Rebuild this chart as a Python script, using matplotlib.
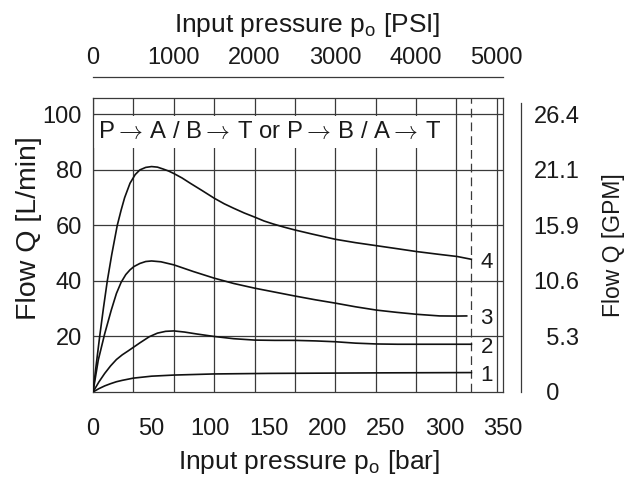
import matplotlib
matplotlib.use('Agg')
import matplotlib.pyplot as plt
from matplotlib.patches import Rectangle

plt.rcParams['font.family'] = ['Liberation Sans', 'DejaVu Sans']
plt.rcParams['mathtext.fontset'] = 'custom'
plt.rcParams['mathtext.rm'] = 'Liberation Sans'
plt.rcParams['mathtext.it'] = 'Liberation Sans:italic'

# ---------------- data ----------------
PSI_PER_BAR = 14.5038
bar_ticks = [0, 50, 100, 150, 200, 250, 300, 350]
psi_ticks = [0, 1000, 2000, 3000, 4000, 5000]
psi_grid = [0, 500, 1000, 1500, 2000, 2500, 3000, 3500, 4000, 4500, 5000]
lpm_ticks = [20, 40, 60, 80, 100]
gpm_positions_lpm = [0, 20, 40, 60, 80, 100]
gpm_labels = ['  0', '  5.3', '10.6', '15.9', '21.1', '26.4']
rated_pressure_bar = 323
flow_path_text = (r'P$\rightarrow\,$A / B$\rightarrow\,$T or '
                  r'P$\rightarrow\,$B / A$\rightarrow\,$T')

x4 = [0, 2.5, 5.7, 9, 12.2, 16, 20.7, 24, 27, 31.6, 36, 40, 45, 50, 55, 60,
      64.5, 69, 76, 83, 93, 103.5, 112, 120, 129, 138, 146, 154, 163, 172,
      187, 207, 224, 242, 260, 276, 295, 311, 323]
y4 = [0, 9, 20, 30.5, 40, 49.5, 60, 65.5, 70, 75.2, 78.3, 80, 80.9, 81.2, 81,
      80.3, 79.6, 78.7, 77.1, 75.2, 72.6, 69.8, 67.8, 66.2, 64.5, 63, 61.6,
      60.5, 59.4, 58.4, 56.9, 55.0, 53.8, 52.7, 51.6, 50.6, 49.6, 48.8, 47.8]

x3 = [0, 4.5, 10, 15.6, 20, 24, 28, 31.6, 35, 40, 45, 50, 58, 69, 85.6,
      103.5, 120, 138, 155, 172, 190, 207, 224, 242, 259, 276, 296, 310, 319]
y3 = [0, 11.5, 21, 29.5, 35.5, 39.5, 42.3, 44, 45.2, 46.3, 47, 47.2, 46.9,
      45.8, 43.4, 41, 39.1, 37.4, 36, 34.6, 33.2, 32, 30.7, 29.5, 28.7, 28,
      27.4, 27.35, 27.4]

x2 = [0, 5, 10, 15, 20, 25, 30, 34.5, 40, 48, 55, 62, 69, 78, 88.5, 103.5,
      120, 138, 155, 172, 190, 207, 224, 242, 260, 323]
y2 = [0, 3.6, 6.7, 9.4, 11.7, 13.4, 14.8, 16.1, 17.7, 19.9, 21.2, 21.85, 22,
      21.6, 20.9, 20, 19.2, 18.7, 18.6, 18.6, 18.4, 18.1, 17.6, 17.3, 17.2,
      17.2]

x1 = [0, 5, 10, 15, 20, 25, 34.5, 50, 69, 103, 150, 200, 250, 323]
y1 = [0, 1.2, 2.2, 3.0, 3.7, 4.2, 5, 5.7, 6.1, 6.5, 6.7, 6.8, 6.9, 7]

curves = [('1', x1, y1), ('2', x2, y2), ('3', x3, y3), ('4', x4, y4)]

# ---------------- figure ----------------
GRID = '#3a3a3a'
TXT = '#1a1a1a'
PX = 72 / 100  # points per pixel

fig = plt.figure(figsize=(6.33, 4.78), dpi=100)
ax = fig.add_axes([93/633, 86/478, 410/633, 294/478])
ax.set_xlim(0, 350)
ax.set_ylim(0, 105.9)

for p in psi_grid:
    ax.axvline(p / PSI_PER_BAR, color=GRID, lw=0.9, zorder=1)
for q in lpm_ticks:
    ax.axhline(q, color=GRID, lw=0.9, zorder=1)
ax.axvline(rated_pressure_bar, color=GRID, lw=0.9, ls=(0, (7, 4)), zorder=1)

ax.add_patch(Rectangle((0.6, 87.9), 303.5, 11.6, facecolor='white',
                       edgecolor='none', zorder=1.5))
ax.text(4.5, 93.8, flow_path_text, ha='left', va='center', fontsize=17.2,
        color=TXT, zorder=3, math_fontfamily='cm')

for name, xs, ys in curves:
    ax.plot(xs, ys, color='#111111', lw=1.2, zorder=3,
            solid_joinstyle='round')
    ax.annotate(name, xy=(336, ys[-1]), xytext=(0, -2),
                textcoords='offset points', ha='center', va='center',
                fontsize=16, color=TXT, zorder=4)

for s in ax.spines.values():
    s.set_color(GRID)
    s.set_linewidth(0.9)

ax.set_xticks(bar_ticks)
ax.set_yticks(lpm_ticks)
ax.tick_params(axis='x', length=0, pad=18.5, labelsize=17, labelcolor=TXT)
ax.tick_params(axis='y', length=0, pad=8, labelsize=17, labelcolor=TXT)
ax.set_xlabel('Input pressure p$_\\mathrm{o}$ [bar]', fontsize=19,
              labelpad=6, color=TXT)
ax.xaxis.label.set_x(0.527)
ax.set_ylabel('Flow Q [L/min]', fontsize=20.5, color=TXT)
ax.yaxis.set_label_coords(-0.124, 0.558)

# top PSI axis
axt = ax.twiny()
axt.set_xlim(0, 350 * PSI_PER_BAR)
axt.set_xticks(psi_ticks)
for k in ('left', 'right', 'bottom'):
    axt.spines[k].set_visible(False)
axt.spines['top'].set_position(('outward', 21 * PX))
axt.spines['top'].set_color(GRID)
axt.spines['top'].set_linewidth(0.9)
axt.tick_params(axis='x', length=0, pad=6, labelsize=17, labelcolor=TXT)
axt.set_xlabel('Input pressure p$_\\mathrm{o}$ [PSI]', fontsize=19,
               labelpad=10.5, color=TXT)
axt.xaxis.label.set_x(0.522)

# right GPM axis
axr = ax.twinx()
axr.set_ylim(ax.get_ylim())
axr.set_yticks(gpm_positions_lpm)
axr.set_yticklabels(gpm_labels)
for k in ('left', 'top', 'bottom'):
    axr.spines[k].set_visible(False)
axr.spines['right'].set_position(('outward', 18 * PX))
axr.spines['right'].set_bounds(0, 104.1)
axr.spines['right'].set_color(GRID)
axr.spines['right'].set_linewidth(0.9)
axr.tick_params(axis='y', length=0, pad=9, labelsize=17, labelcolor=TXT)
axr.set_ylabel('Flow Q [GPM]', fontsize=16.5, labelpad=16, color=TXT)

fig.savefig('out.png', dpi=100)
